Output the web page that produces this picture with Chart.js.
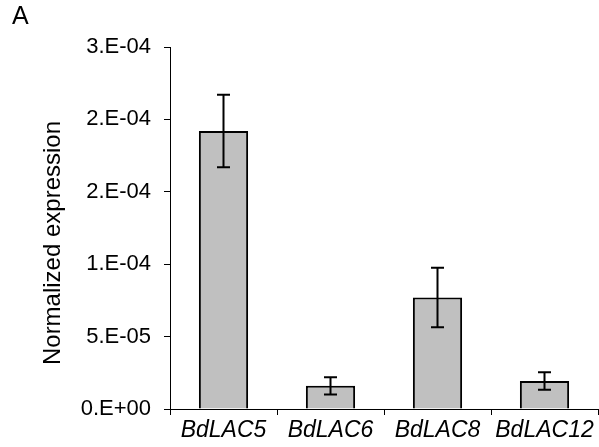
<!DOCTYPE html>
<html>
<head>
<meta charset="utf-8">
<script src="https://cdn.jsdelivr.net/npm/chart.js@4"></script>
<style>
  html, body { margin: 0; padding: 0; background: #fff; }
</style>
</head>
<body>
<canvas id="chart" width="599" height="447"></canvas>
<script>
// data
const genes = ["BdLAC5", "BdLAC6", "BdLAC8", "BdLAC12"];
const expression = [1.92e-4, 1.6e-5, 7.7e-5, 1.93e-5];
const errors = [2.5e-5, 6e-6, 2.05e-5, 6e-6];
const yMax = 2.5e-4;
const yStep = 5e-5;
const yTitle = "Normalized expression";
const panelLabel = "A";

const font = "'Liberation Sans', Arial, sans-serif";

// Excel style "2.E-04"
function sci(v) {
  if (Math.abs(v) < 1e-12) return "0.E+00";
  let e = Math.floor(Math.log10(v) + 1e-9);
  let m = Math.round(v / Math.pow(10, e) + 1e-6);
  if (m >= 10) { m = 1; e++; }
  return m + ".E" + (e < 0 ? "-" : "+") + String(Math.abs(e)).padStart(2, "0");
}

// error bars drawn on top of the bars
const errorBars = {
  id: "errorBars",
  afterDatasetsDraw(chart) {
    const ctx = chart.ctx;
    const y = chart.scales.y;
    const meta = chart.getDatasetMeta(0);
    ctx.save();
    ctx.strokeStyle = "#000";
    ctx.lineWidth = 2;
    meta.data.forEach((bar, i) => {
      const top = y.getPixelForValue(expression[i] + errors[i]);
      const bot = y.getPixelForValue(expression[i] - errors[i]);
      ctx.beginPath();
      ctx.moveTo(bar.x, top); ctx.lineTo(bar.x, bot);
      ctx.moveTo(bar.x - 6.5, top); ctx.lineTo(bar.x + 6.5, top);
      ctx.moveTo(bar.x - 6.5, bot); ctx.lineTo(bar.x + 6.5, bot);
      ctx.stroke();
    });
    ctx.restore();
  }
};

// panel letter and rotated y title
const labels = {
  id: "labels",
  afterDraw(chart) {
    const ctx = chart.ctx;
    ctx.save();
    ctx.fillStyle = "#000";
    ctx.font = "25px " + font;
    ctx.textAlign = "left";
    ctx.textBaseline = "alphabetic";
    ctx.fillText(panelLabel, 12, 24);

    ctx.translate(53, 243);
    ctx.rotate(-Math.PI / 2);
    ctx.font = "24px " + font;
    ctx.textAlign = "center";
    ctx.textBaseline = "middle";
    ctx.fillText(yTitle, 0, 0);
    ctx.restore();
  }
};

new Chart(document.getElementById("chart").getContext("2d"), {
  type: "bar",
  data: {
    labels: genes,
    datasets: [{
      data: expression,
      backgroundColor: "#c0c0c0",
      borderColor: "#000",
      borderWidth: 2,
      categoryPercentage: 1,
      barPercentage: 0.46
    }]
  },
  options: {
    responsive: false,
    animation: false,
    layout: { padding: { top: 47, right: 1, bottom: 0, left: 0 } },
    plugins: { legend: { display: false }, tooltip: { enabled: false } },
    scales: {
      x: {
        grid: { drawOnChartArea: false, tickLength: 6, tickColor: "#000", offset: true },
        border: { color: "#000", width: 1 },
        ticks: { color: "#000", padding: 2, font: { family: font, size: 23, style: "italic" } },
        afterFit(scale) { scale.height = 38; }
      },
      y: {
        min: 0,
        max: yMax,
        grid: { drawOnChartArea: false, tickLength: 6, tickColor: "#000" },
        border: { color: "#000", width: 1 },
        ticks: {
          stepSize: yStep,
          color: "#000",
          padding: 13,
          font: { family: font, size: 22 },
          callback: (v) => sci(v)
        },
        afterFit(scale) { scale.width = 170; }
      }
    }
  },
  plugins: [errorBars, labels]
});
</script>
</body>
</html>
